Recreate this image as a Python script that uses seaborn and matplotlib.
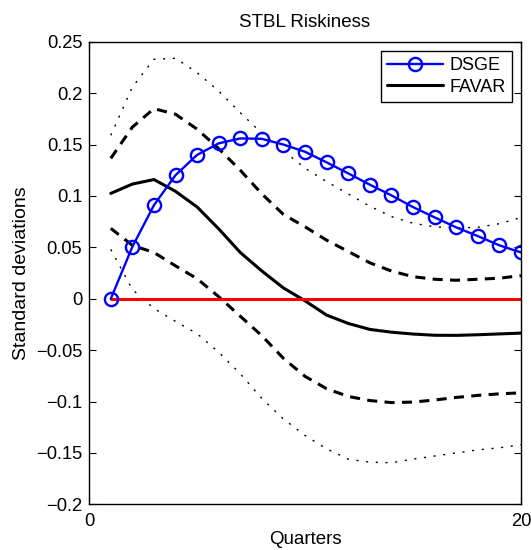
import numpy as np
import pandas as pd
import matplotlib
matplotlib.use("Agg")
import matplotlib.pyplot as plt
import seaborn as sns

quarters = list(range(1, 21))

dsge = [0.0, 0.0506, 0.0911, 0.1203, 0.140, 0.1512, 0.156, 0.1556, 0.150, 0.143,
        0.1327, 0.122, 0.111, 0.1006, 0.0892, 0.0792, 0.0695, 0.061, 0.052, 0.0451]

favar_median = [0.1025, 0.1116, 0.116, 0.1045, 0.0893, 0.068, 0.045, 0.027, 0.0105, -0.002,
                -0.0159, -0.024, -0.0298, -0.0325, -0.0343, -0.0355, -0.0356, -0.035, -0.0342, -0.0334]

favar_upper68 = [0.1366, 0.167, 0.185, 0.1795, 0.165, 0.146, 0.125, 0.102, 0.082, 0.070,
                 0.057, 0.046, 0.035, 0.027, 0.0215, 0.019, 0.018, 0.019, 0.020, 0.0225]

favar_lower68 = [0.0685, 0.052, 0.045, 0.032, 0.0195, 0.002, -0.017, -0.036, -0.058, -0.0755,
                 -0.0875, -0.095, -0.099, -0.101, -0.1005, -0.0985, -0.096, -0.094, -0.0925, -0.0915]

favar_upper90 = [0.159, 0.206, 0.233, 0.234, 0.220, 0.202, 0.181, 0.161, 0.144, 0.127,
                 0.114, 0.102, 0.090, 0.080, 0.0735, 0.070, 0.069, 0.0695, 0.073, 0.079]

favar_lower90 = [0.048, 0.009, -0.0095, -0.022, -0.034, -0.052, -0.073, -0.097, -0.117, -0.133,
                 -0.146, -0.156, -0.159, -0.1595, -0.156, -0.153, -0.150, -0.147, -0.145, -0.142]

zero_line = [0.0] * len(quarters)

df = pd.DataFrame({
    "q": quarters,
    "dsge": dsge,
    "med": favar_median,
    "u68": favar_upper68,
    "l68": favar_lower68,
    "u90": favar_upper90,
    "l90": favar_lower90,
    "zero": zero_line,
})

sns.set_style("white")
plt.rcParams["font.family"] = ["Liberation Sans", "DejaVu Sans"]
plt.rcParams["axes.unicode_minus"] = True
plt.rcParams["text.color"] = "black"
plt.rcParams["axes.labelcolor"] = "black"

fig = plt.figure(figsize=(5.31, 5.5), dpi=100)
ax = fig.add_axes([0.168, 0.083, 0.813, 0.841])

# confidence bands
for col in ["u90", "l90"]:
    sns.lineplot(data=df, x="q", y=col, ax=ax, color="black", linewidth=1.0,
                 legend=False)
    ax.lines[-1].set_dashes((1.5, 5.5))
for col in ["u68", "l68"]:
    sns.lineplot(data=df, x="q", y=col, ax=ax, color="black", linewidth=2.2,
                 legend=False)
    ax.lines[-1].set_dashes((3.3, 2.4))

# median FAVAR response
sns.lineplot(data=df, x="q", y="med", ax=ax, color="black", linewidth=2.2,
             label="FAVAR", legend=False)
favar_line = ax.lines[-1]

# zero reference
sns.lineplot(data=df, x="q", y="zero", ax=ax, color="#ff0000", linewidth=2.2,
             legend=False)

# DSGE response
sns.lineplot(data=df, x="q", y="dsge", ax=ax, color="#0000ff", linewidth=1.7,
             marker="o", markersize=9.5, markerfacecolor="none",
             markeredgecolor="#0000ff", markeredgewidth=1.7,
             label="DSGE", legend=False)
dsge_line = ax.lines[-1]

ax.set_xlim(0, 20)
ax.set_ylim(-0.2, 0.25)
ax.set_xticks([0, 20])
ax.set_xticklabels(["0", "20"])
yt = [-0.2, -0.15, -0.1, -0.05, 0, 0.05, 0.1, 0.15, 0.2, 0.25]
ax.set_yticks(yt)
ax.set_yticklabels(["\u22120.2", "\u22120.15", "\u22120.1", "\u22120.05", "0",
                    "0.05", "0.1", "0.15", "0.2", "0.25"])
ax.tick_params(direction="in", length=5, width=0.8, top=True, right=True,
               bottom=True, left=True, labelsize=13.2, colors="black",
               labelcolor="black")
ax.tick_params(axis="x", pad=6)
ax.tick_params(axis="y", pad=5)
for sp in ax.spines.values():
    sp.set_visible(True)
    sp.set_color("black")
    sp.set_linewidth(1.0)

ax.set_xlabel("Quarters", fontsize=13.5, labelpad=1, color="black")
ax.set_ylabel("Standard deviations", fontsize=14, labelpad=4, color="black")
ax.set_title("STBL Riskiness", fontsize=13.5, pad=11, color="black")

leg = ax.legend(handles=[dsge_line, favar_line], labels=["DSGE", "FAVAR"],
                loc="upper right", fontsize=13, frameon=True, fancybox=False,
                edgecolor="black", framealpha=1, handlelength=3.1,
                borderpad=0.35, labelspacing=0.25, handletextpad=0.35,
                borderaxespad=0.5)
leg.get_frame().set_linewidth(1.0)
for t in leg.get_texts():
    t.set_color("black")

fig.savefig("out.png", dpi=100)
